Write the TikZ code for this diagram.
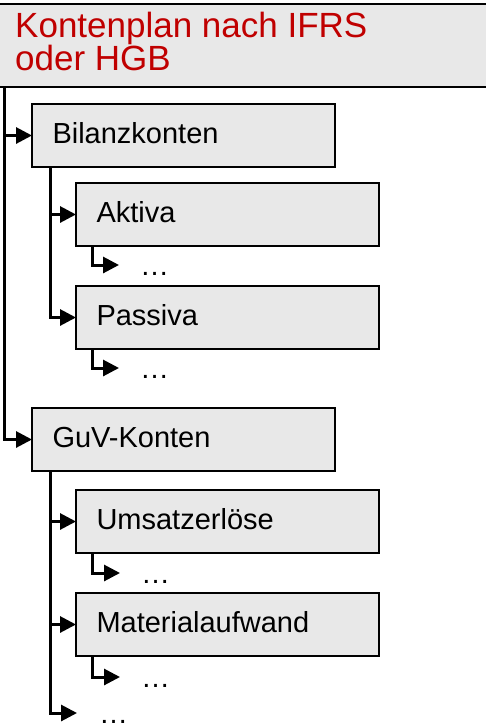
\documentclass[tikz,border=0pt]{standalone}
\usepackage{fontspec}
\setmainfont{Liberation Sans}
\usetikzlibrary{arrows.meta}
\definecolor{boxgray}{HTML}{E8E8E8}
\definecolor{titlered}{HTML}{C00000}
\begin{document}
\begin{tikzpicture}[x=1pt,y=-1pt,
  account/.style={draw=black, line width=2pt, fill=boxgray, outer sep=0pt,
    anchor=north west, minimum width=303pt, minimum height=63pt,
    inner xsep=20.5pt, text width=262pt, align=left,
    text height=15pt, text depth=0pt, font=\fontsize{29}{34}\selectfont},
  more/.style={anchor=west, inner xsep=21pt, inner ysep=0pt,
    text height=20pt, text depth=0pt, font=\fontsize{29}{34}\selectfont},
  link/.style={line width=3pt, -{Triangle[length=16pt,width=16pt]}}]
\useasboundingbox (0,0) rectangle (486,726);

% header
\node[draw=black, line width=2pt, fill=boxgray, outer sep=0pt, anchor=north west,
      minimum width=520pt, minimum height=83pt] (titlebox) at (-17,4) {};
\node[anchor=north west, inner sep=0pt, align=left, text=titlered,
      font=\fontsize{35}{33}\selectfont] (title) at (15,11.5)
      {Kontenplan nach IFRS\\oder HGB};
\coordinate (root) at (4.3,87);

% accounts
\node[account] (bil) at (32,104) {Bilanzkonten};
\node[account] (akt) at (76,183) {Aktiva};
\node[account] (pas) at (76,286) {Passiva};
\node[account] (guv) at (32,408) {GuV-Konten};
\node[account] (ums) at (76,490) {Umsatzerlöse};
\node[account] (mat) at (76,593) {Materialaufwand};

% continuation marks
\node[more] (aktmore) at (119,265) {…};
\node[more] (pasmore) at (119,368) {…};
\node[more] (umsmore) at (120,573) {…};
\node[more] (matmore) at (120,677) {…};
\node[more, inner xsep=22pt] (guvmore) at (77,713) {…};

% connectors
\draw[link] (root) |- (bil.west);
\draw[link] (root) |- (guv.west);
\draw[link] ([xshift=18.7pt]bil.south west) |- (akt.west);
\draw[link] ([xshift=18.7pt]bil.south west) |- (pas.west);
\draw[link] ([xshift=16.5pt]akt.south west) |- (aktmore.west);
\draw[link] ([xshift=16.5pt]pas.south west) |- (pasmore.west);
\draw[link] ([xshift=18.7pt]guv.south west) |- (ums.west);
\draw[link] ([xshift=18.7pt]guv.south west) |- (mat.west);
\draw[link] ([xshift=18.7pt]guv.south west) |- (guvmore.west);
\draw[link] ([xshift=16.5pt]ums.south west) |- (umsmore.west);
\draw[link] ([xshift=16.5pt]mat.south west) |- (matmore.west);
\end{tikzpicture}
\end{document}
